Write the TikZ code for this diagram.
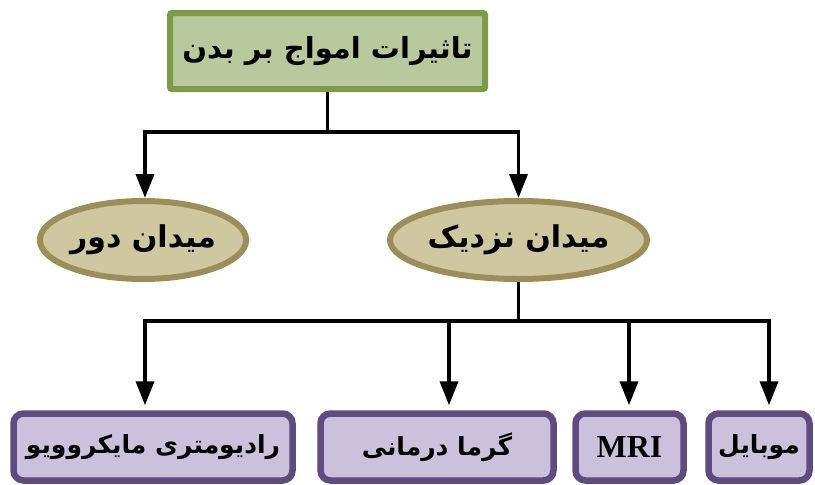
\documentclass[tikz,border=0pt]{standalone}
\usepackage{fontspec}
\usepackage{tikz}
\usetikzlibrary{shapes.geometric, arrows.meta, calc, positioning}
\newfontfamily\farsifont[Script=Arabic]{DejaVu Sans}
\newfontfamily\latinfont{Liberation Serif}
\TeXXeTstate=1
\definecolor{titlefill}{RGB}{183,201,157}
\definecolor{titleborder}{RGB}{125,155,70}
\definecolor{fieldfill}{RGB}{207,199,160}
\definecolor{fieldborder}{RGB}{156,142,90}
\definecolor{leaffill}{RGB}{203,193,220}
\definecolor{leafborder}{RGB}{94,76,128}

\begin{document}
\begin{tikzpicture}[x=1pt,y=-1pt]

% TikZ styles
\tikzset{
  effect/.style={rectangle, draw=titleborder, fill=titlefill, line width=6pt, rounded corners=2pt, minimum width=315pt, minimum height=76pt, inner sep=0pt, font=\farsifont\bfseries\fontsize{29}{34}\selectfont},
  field/.style={ellipse, draw=fieldborder, fill=fieldfill, line width=6pt, minimum height=78pt, inner sep=0pt, font=\farsifont\bfseries\fontsize{30}{34}\selectfont},
  leaf/.style={rectangle, draw=leafborder, fill=leaffill, line width=6.5pt, rounded corners=10pt, minimum height=67pt, inner sep=0pt, font=\farsifont\bfseries\fontsize{25}{29}\selectfont},
  arrow/.style={-{Triangle[width=18pt, length=24pt]}, line width=3.5pt, shorten >=5pt},
  branch/.style={line width=3.5pt}
}
\useasboundingbox (0,0) rectangle (815,485);

%==========================
% Oben: Titel und Felder
%==========================
\node[effect] (effects) at (327.5,51) {\beginR تاثیرات امواج بر بدن\endR};

\node[field, minimum width=206pt] (farfield)  at (143,240)   {\beginR میدان دور\endR};
\node[field, minimum width=251pt] (nearfield) at (518.5,240) {\beginR میدان نزدیک\endR};

\node[coordinate] (joinpoint) at (327.5,132) {};
\node[coordinate] (joinfar)   at (145,132) {};
\node[coordinate] (joinnear)  at (518.5,132) {};

\draw[branch] (effects.south) -- (joinpoint);
\draw[branch, line cap=rect] (joinfar) -- (joinnear);
\draw[arrow, shorten >=0pt] (joinfar) -- (joinfar |- farfield.north);
\draw[arrow, shorten >=0pt] (joinnear) -- (nearfield.north);

%==========================
% Unten: Anwendungen
%==========================
\node[leaf, minimum width=279pt] (radiometry) at (153,447)   {\beginR رادیومتری مایکروویو\endR};
\node[leaf, minimum width=233pt] (thermo)     at (437,447)   {\beginR گرما درمانی\endR};
\node[leaf, minimum width=108pt, font=\latinfont\bfseries\fontsize{32}{36}\selectfont] (mri) at (629.5,447) {MRI};
\node[leaf, minimum width=101pt] (mobile)     at (759,447)   {\beginR موبایل\endR};

\node[coordinate] (joinbottom) at (518.5,321) {};
\node[coordinate] (joinradio)  at (145,321) {};
\node[coordinate] (jointhermo) at (449,321) {};
\node[coordinate] (joinmri)    at (629,321) {};
\node[coordinate] (joinmobile) at (769,321) {};

\draw[branch] (nearfield.south) -- (joinbottom);
\draw[branch, line cap=rect] (joinradio) -- (joinmobile);
\draw[arrow] (joinradio)  -- (joinradio |- radiometry.north);
\draw[arrow] (jointhermo) -- (jointhermo |- thermo.north);
\draw[arrow] (joinmri)    -- (joinmri |- mri.north);
\draw[arrow] (joinmobile) -- (joinmobile |- mobile.north);
\end{tikzpicture}
\end{document}
